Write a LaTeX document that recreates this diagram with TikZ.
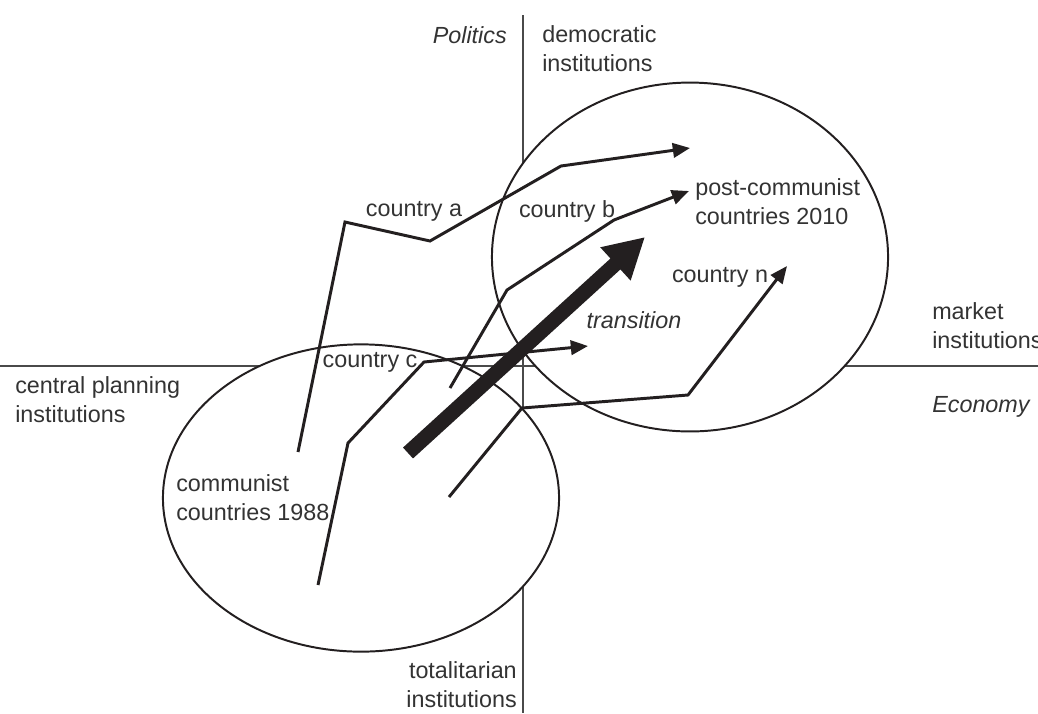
\documentclass[tikz,border=0pt]{standalone}
\usepackage{fontspec}
\setmainfont{Liberation Sans}
\usetikzlibrary{arrows.meta,shapes.geometric}
\definecolor{trink}{HTML}{231F20}
\definecolor{trtext}{HTML}{333333}
\definecolor{traxis}{HTML}{4A4A4A}
\tikzset{
  axis/.style={draw=traxis,line width=1.3pt},
  blob/.style={ellipse,draw=trink,line width=1.4pt,fill=white,inner sep=0pt},
  route/.style={-{Triangle[length=0.43cm,width=0.36cm]},line width=2.1pt,draw=trink},
  bigarrow/.style={-{Triangle[length=1.0cm,width=1.05cm]},line width=10.5pt,draw=trink},
  lab/.style={font=\fontsize{16.6}{20.5}\selectfont,text=trtext,inner sep=0pt},
  ital/.style={lab,font=\fontsize{16.6}{20.5}\selectfont\itshape},
}

\begin{document}
\begin{tikzpicture}[x=0.025cm,y=-0.025cm]
  \useasboundingbox (0,0) rectangle (1038,713);
  % axes
  \coordinate (ntop) at (523,15);
  \coordinate (nbot) at (523,713);
  \coordinate (wend) at (0,366);
  \coordinate (eend) at (1038,366);
  \draw[axis] (ntop) -- (nbot);
  \draw[axis] (wend) -- (eend);
  % the two groups
  \node[blob,minimum width=9.9cm,minimum height=7.68cm] (old) at (361,498) {};
  \node[blob,minimum width=9.9cm,minimum height=8.72cm] (new) at (690,257) {};
  % country paths
  \coordinate (a0) at (298,452);
  \coordinate (a1) at (345,222);
  \coordinate (a2) at (430,241);
  \coordinate (a3) at (561,166);
  \coordinate (a4) at (690,148);
  \coordinate (b0) at (450,388);
  \coordinate (b1) at (507,290);
  \coordinate (b2) at (614,220);
  \coordinate (b3) at (689,191);
  \coordinate (c0) at (318,585);
  \coordinate (c1) at (348,443);
  \coordinate (c2) at (424,362);
  \coordinate (c3) at (588,346);
  \coordinate (n0) at (449,497);
  \coordinate (n1) at (522,408);
  \coordinate (n2) at (688,395);
  \coordinate (n3) at (787,266);
  \draw[route] (a0) -- (a1) -- (a2) -- (a3) -- (a4);
  \draw[route] (b0) -- (b1) -- (b2) -- (b3);
  \draw[route] (c0) -- (c1) -- (c2) -- (c3);
  \draw[route] (n0) -- (n1) -- (n2) -- (n3);
  \coordinate (t0) at (408,453);
  \coordinate (t1) at (645,237);
  \draw[bigarrow] (t0) -- (t1);
  % labels
  \node[ital,anchor=east] (politics) at (507,35) {Politics};
  \node[lab,anchor=west,align=left] (democ) at (542,49) {democratic\\institutions};
  \node[lab,anchor=west,align=left] (central) at (15,400) {central planning\\institutions};
  \node[lab,anchor=west,align=left] (market) at (932,326) {market\\institutions};
  \node[ital,anchor=west] (economy) at (932,407) {Economy};
  \node[lab,anchor=east,align=right] (totalit) at (517,685) {totalitarian\\institutions};
  \node[lab,anchor=west,align=left] (comm88) at (176,498) {communist\\countries 1988};
  \node[lab,anchor=west,align=left] (post10) at (695,202) {post-communist\\countries 2010};
  \node[lab] (ctrya) at (414,211) {country a};
  \node[lab] (ctryb) at (567,211) {country b};
  \node[lab] (ctryc) at (370,362) {country c};
  \node[lab] (ctryn) at (720,277) {country n};
  \node[ital] (trans) at (634,320) {transition};
\end{tikzpicture}
\end{document}
